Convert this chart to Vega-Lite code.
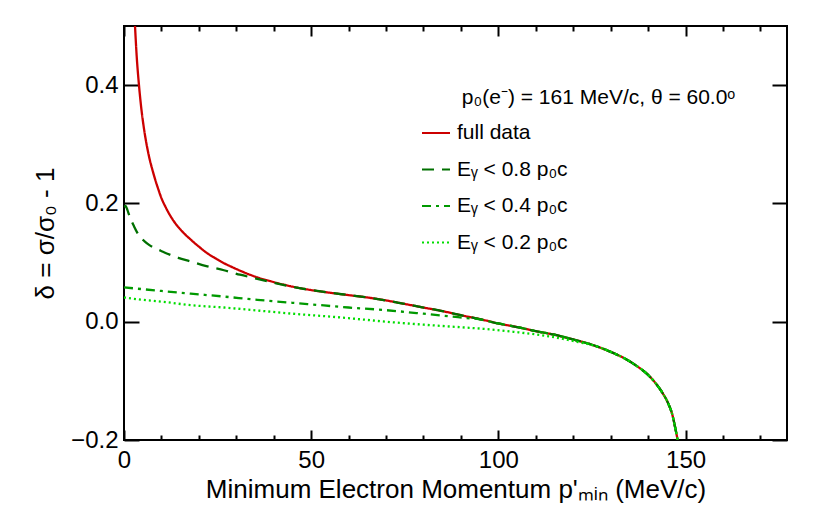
{
  "$schema": "https://vega.github.io/schema/vega-lite/v6.json",
  "width": 663,
  "height": 414,
  "autosize": "none",
  "padding": {"left": 124, "top": 26, "right": 43, "bottom": 79},
  "background": "white",
  "config": {
    "font": "Liberation Sans",
    "view": {"stroke": "black", "strokeWidth": 2},
    "axis": {"domain": false, "grid": false, "tickColor": "black", "tickWidth": 2, "labelColor": "black", "labelFont": "Liberation Sans", "labelFontSize": 24, "labelFlush": false, "labelOverlap": false, "titleFont": "Liberation Sans", "titleFontSize": 26, "titleFontWeight": "normal", "titleColor": "black", "zindex": 1},
    "legend": {"padding": 0, "titleFont": "Liberation Sans", "titleFontSize": 21, "titleFontWeight": "normal", "titleColor": "black", "titleLimit": 500, "titlePadding": 10, "labelFont": "Liberation Sans", "labelFontSize": 21, "labelColor": "black", "labelLimit": 300, "symbolType": "stroke", "symbolSize": 784, "symbolStrokeWidth": 2, "labelOffset": 6, "rowPadding": 11.5}
  },
  "data": {
    "values": [
      {"series": "full data", "p": 2.94, "delta": 0.5},
      {"series": "full data", "p": 3.4, "delta": 0.448},
      {"series": "full data", "p": 4.0, "delta": 0.4},
      {"series": "full data", "p": 4.6, "delta": 0.362},
      {"series": "full data", "p": 5.3, "delta": 0.328},
      {"series": "full data", "p": 6.0, "delta": 0.301},
      {"series": "full data", "p": 6.7, "delta": 0.279},
      {"series": "full data", "p": 7.8, "delta": 0.252},
      {"series": "full data", "p": 8.9, "delta": 0.229},
      {"series": "full data", "p": 10.0, "delta": 0.209},
      {"series": "full data", "p": 11.1, "delta": 0.194},
      {"series": "full data", "p": 12.2, "delta": 0.181},
      {"series": "full data", "p": 13.3, "delta": 0.17},
      {"series": "full data", "p": 15.5, "delta": 0.153},
      {"series": "full data", "p": 17.8, "delta": 0.139},
      {"series": "full data", "p": 20.0, "delta": 0.127},
      {"series": "full data", "p": 22.2, "delta": 0.116},
      {"series": "full data", "p": 24.5, "delta": 0.107},
      {"series": "full data", "p": 26.7, "delta": 0.099},
      {"series": "full data", "p": 29.0, "delta": 0.092},
      {"series": "full data", "p": 31.5, "delta": 0.085},
      {"series": "full data", "p": 35.6, "delta": 0.075},
      {"series": "full data", "p": 40.0, "delta": 0.067},
      {"series": "full data", "p": 44.5, "delta": 0.06},
      {"series": "full data", "p": 50, "delta": 0.0535},
      {"series": "full data", "p": 55, "delta": 0.049},
      {"series": "full data", "p": 60, "delta": 0.045},
      {"series": "full data", "p": 65, "delta": 0.041},
      {"series": "full data", "p": 70, "delta": 0.036},
      {"series": "full data", "p": 75, "delta": 0.03},
      {"series": "full data", "p": 80, "delta": 0.024},
      {"series": "full data", "p": 85, "delta": 0.018},
      {"series": "full data", "p": 90, "delta": 0.011},
      {"series": "full data", "p": 95, "delta": 0.0045},
      {"series": "full data", "p": 100, "delta": -0.003},
      {"series": "full data", "p": 105, "delta": -0.009},
      {"series": "full data", "p": 110, "delta": -0.016},
      {"series": "full data", "p": 115, "delta": -0.022},
      {"series": "full data", "p": 120, "delta": -0.03},
      {"series": "full data", "p": 125, "delta": -0.039},
      {"series": "full data", "p": 130, "delta": -0.051},
      {"series": "full data", "p": 134, "delta": -0.063},
      {"series": "full data", "p": 137, "delta": -0.075},
      {"series": "full data", "p": 140, "delta": -0.09},
      {"series": "full data", "p": 142, "delta": -0.104},
      {"series": "full data", "p": 144, "delta": -0.122},
      {"series": "full data", "p": 145.5, "delta": -0.14},
      {"series": "full data", "p": 146.5, "delta": -0.158},
      {"series": "full data", "p": 147.2, "delta": -0.178},
      {"series": "full data", "p": 147.9, "delta": -0.2},

      {"series": "Eᵧ < 0.8 p₀c", "p": 0, "delta": 0.194},
      {"series": "Eᵧ < 0.8 p₀c", "p": 0.4, "delta": 0.196},
      {"series": "Eᵧ < 0.8 p₀c", "p": 0.9, "delta": 0.189},
      {"series": "Eᵧ < 0.8 p₀c", "p": 1.5, "delta": 0.178},
      {"series": "Eᵧ < 0.8 p₀c", "p": 2.1, "delta": 0.169},
      {"series": "Eᵧ < 0.8 p₀c", "p": 2.7, "delta": 0.161},
      {"series": "Eᵧ < 0.8 p₀c", "p": 3.5, "delta": 0.151},
      {"series": "Eᵧ < 0.8 p₀c", "p": 4.45, "delta": 0.142},
      {"series": "Eᵧ < 0.8 p₀c", "p": 5.5, "delta": 0.136},
      {"series": "Eᵧ < 0.8 p₀c", "p": 6.7, "delta": 0.13},
      {"series": "Eᵧ < 0.8 p₀c", "p": 8.0, "delta": 0.125},
      {"series": "Eᵧ < 0.8 p₀c", "p": 9.8, "delta": 0.12},
      {"series": "Eᵧ < 0.8 p₀c", "p": 11.6, "delta": 0.115},
      {"series": "Eᵧ < 0.8 p₀c", "p": 14.5, "delta": 0.108},
      {"series": "Eᵧ < 0.8 p₀c", "p": 17.8, "delta": 0.102},
      {"series": "Eᵧ < 0.8 p₀c", "p": 22.0, "delta": 0.094},
      {"series": "Eᵧ < 0.8 p₀c", "p": 26.7, "delta": 0.087},
      {"series": "Eᵧ < 0.8 p₀c", "p": 31.0, "delta": 0.0795},
      {"series": "Eᵧ < 0.8 p₀c", "p": 35.6, "delta": 0.0725},
      {"series": "Eᵧ < 0.8 p₀c", "p": 40.0, "delta": 0.066},
      {"series": "Eᵧ < 0.8 p₀c", "p": 44.5, "delta": 0.0595},
      {"series": "Eᵧ < 0.8 p₀c", "p": 50, "delta": 0.0535},
      {"series": "Eᵧ < 0.8 p₀c", "p": 55, "delta": 0.049},
      {"series": "Eᵧ < 0.8 p₀c", "p": 60, "delta": 0.045},
      {"series": "Eᵧ < 0.8 p₀c", "p": 65, "delta": 0.041},
      {"series": "Eᵧ < 0.8 p₀c", "p": 70, "delta": 0.036},
      {"series": "Eᵧ < 0.8 p₀c", "p": 75, "delta": 0.03},
      {"series": "Eᵧ < 0.8 p₀c", "p": 80, "delta": 0.024},
      {"series": "Eᵧ < 0.8 p₀c", "p": 85, "delta": 0.018},
      {"series": "Eᵧ < 0.8 p₀c", "p": 90, "delta": 0.011},
      {"series": "Eᵧ < 0.8 p₀c", "p": 95, "delta": 0.0045},
      {"series": "Eᵧ < 0.8 p₀c", "p": 100, "delta": -0.003},
      {"series": "Eᵧ < 0.8 p₀c", "p": 105, "delta": -0.009},
      {"series": "Eᵧ < 0.8 p₀c", "p": 110, "delta": -0.016},
      {"series": "Eᵧ < 0.8 p₀c", "p": 115, "delta": -0.022},
      {"series": "Eᵧ < 0.8 p₀c", "p": 120, "delta": -0.03},
      {"series": "Eᵧ < 0.8 p₀c", "p": 125, "delta": -0.039},
      {"series": "Eᵧ < 0.8 p₀c", "p": 130, "delta": -0.051},
      {"series": "Eᵧ < 0.8 p₀c", "p": 134, "delta": -0.063},
      {"series": "Eᵧ < 0.8 p₀c", "p": 137, "delta": -0.075},
      {"series": "Eᵧ < 0.8 p₀c", "p": 140, "delta": -0.09},
      {"series": "Eᵧ < 0.8 p₀c", "p": 142, "delta": -0.104},
      {"series": "Eᵧ < 0.8 p₀c", "p": 144, "delta": -0.122},
      {"series": "Eᵧ < 0.8 p₀c", "p": 145.5, "delta": -0.14},
      {"series": "Eᵧ < 0.8 p₀c", "p": 146.5, "delta": -0.158},
      {"series": "Eᵧ < 0.8 p₀c", "p": 147.2, "delta": -0.178},
      {"series": "Eᵧ < 0.8 p₀c", "p": 147.9, "delta": -0.2},

      {"series": "Eᵧ < 0.4 p₀c", "p": 0, "delta": 0.058},
      {"series": "Eᵧ < 0.4 p₀c", "p": 5, "delta": 0.055},
      {"series": "Eᵧ < 0.4 p₀c", "p": 10, "delta": 0.052},
      {"series": "Eᵧ < 0.4 p₀c", "p": 17.8, "delta": 0.0475},
      {"series": "Eᵧ < 0.4 p₀c", "p": 26.7, "delta": 0.0425},
      {"series": "Eᵧ < 0.4 p₀c", "p": 35.6, "delta": 0.037},
      {"series": "Eᵧ < 0.4 p₀c", "p": 45, "delta": 0.032},
      {"series": "Eᵧ < 0.4 p₀c", "p": 53.4, "delta": 0.0275},
      {"series": "Eᵧ < 0.4 p₀c", "p": 60, "delta": 0.024},
      {"series": "Eᵧ < 0.4 p₀c", "p": 69.1, "delta": 0.02},
      {"series": "Eᵧ < 0.4 p₀c", "p": 80, "delta": 0.0135},
      {"series": "Eᵧ < 0.4 p₀c", "p": 87, "delta": 0.009},
      {"series": "Eᵧ < 0.4 p₀c", "p": 91, "delta": 0.0065},
      {"series": "Eᵧ < 0.4 p₀c", "p": 95, "delta": 0.004},
      {"series": "Eᵧ < 0.4 p₀c", "p": 100, "delta": -0.003},
      {"series": "Eᵧ < 0.4 p₀c", "p": 105, "delta": -0.009},
      {"series": "Eᵧ < 0.4 p₀c", "p": 110, "delta": -0.016},
      {"series": "Eᵧ < 0.4 p₀c", "p": 115, "delta": -0.022},
      {"series": "Eᵧ < 0.4 p₀c", "p": 120, "delta": -0.03},
      {"series": "Eᵧ < 0.4 p₀c", "p": 125, "delta": -0.039},
      {"series": "Eᵧ < 0.4 p₀c", "p": 130, "delta": -0.051},
      {"series": "Eᵧ < 0.4 p₀c", "p": 134, "delta": -0.063},
      {"series": "Eᵧ < 0.4 p₀c", "p": 137, "delta": -0.075},
      {"series": "Eᵧ < 0.4 p₀c", "p": 140, "delta": -0.09},
      {"series": "Eᵧ < 0.4 p₀c", "p": 142, "delta": -0.104},
      {"series": "Eᵧ < 0.4 p₀c", "p": 144, "delta": -0.122},
      {"series": "Eᵧ < 0.4 p₀c", "p": 145.5, "delta": -0.14},
      {"series": "Eᵧ < 0.4 p₀c", "p": 146.5, "delta": -0.158},
      {"series": "Eᵧ < 0.4 p₀c", "p": 147.2, "delta": -0.178},
      {"series": "Eᵧ < 0.4 p₀c", "p": 147.9, "delta": -0.2},

      {"series": "Eᵧ < 0.2 p₀c", "p": 0, "delta": 0.041},
      {"series": "Eᵧ < 0.2 p₀c", "p": 5, "delta": 0.037},
      {"series": "Eᵧ < 0.2 p₀c", "p": 10, "delta": 0.034},
      {"series": "Eᵧ < 0.2 p₀c", "p": 17.8, "delta": 0.028},
      {"series": "Eᵧ < 0.2 p₀c", "p": 26.7, "delta": 0.024},
      {"series": "Eᵧ < 0.2 p₀c", "p": 35.6, "delta": 0.019},
      {"series": "Eᵧ < 0.2 p₀c", "p": 47, "delta": 0.0125},
      {"series": "Eᵧ < 0.2 p₀c", "p": 53.4, "delta": 0.0095},
      {"series": "Eᵧ < 0.2 p₀c", "p": 60, "delta": 0.006},
      {"series": "Eᵧ < 0.2 p₀c", "p": 69.1, "delta": 0.0005},
      {"series": "Eᵧ < 0.2 p₀c", "p": 80, "delta": -0.005},
      {"series": "Eᵧ < 0.2 p₀c", "p": 91.5, "delta": -0.01},
      {"series": "Eᵧ < 0.2 p₀c", "p": 96, "delta": -0.012},
      {"series": "Eᵧ < 0.2 p₀c", "p": 104, "delta": -0.017},
      {"series": "Eᵧ < 0.2 p₀c", "p": 112.8, "delta": -0.024},
      {"series": "Eᵧ < 0.2 p₀c", "p": 121.7, "delta": -0.035},
      {"series": "Eᵧ < 0.2 p₀c", "p": 126, "delta": -0.041},
      {"series": "Eᵧ < 0.2 p₀c", "p": 130, "delta": -0.051},
      {"series": "Eᵧ < 0.2 p₀c", "p": 134, "delta": -0.063},
      {"series": "Eᵧ < 0.2 p₀c", "p": 137, "delta": -0.075},
      {"series": "Eᵧ < 0.2 p₀c", "p": 140, "delta": -0.09},
      {"series": "Eᵧ < 0.2 p₀c", "p": 142, "delta": -0.104},
      {"series": "Eᵧ < 0.2 p₀c", "p": 144, "delta": -0.122},
      {"series": "Eᵧ < 0.2 p₀c", "p": 145.5, "delta": -0.14},
      {"series": "Eᵧ < 0.2 p₀c", "p": 146.5, "delta": -0.158},
      {"series": "Eᵧ < 0.2 p₀c", "p": 147.2, "delta": -0.178},
      {"series": "Eᵧ < 0.2 p₀c", "p": 147.9, "delta": -0.2}
    ]
  },
  "resolve": {"axis": {"x": "independent", "y": "independent"}},
  "layer": [
    {
      "mark": {"type": "line", "strokeWidth": 2.3, "clip": true, "interpolate": "monotone"},
      "encoding": {
        "x": {"field": "p", "type": "quantitative", "scale": {"domain": [0, 177.1], "nice": false, "zero": false},
          "axis": {"orient": "bottom", "values": [0, 50, 100, 150], "tickSize": -10, "labelPadding": 18, "title": "Minimum Electron Momentum p'ₘᵢₙ (MeV/c)", "titlePadding": 4}},
        "y": {"field": "delta", "type": "quantitative", "scale": {"domain": [-0.2, 0.5], "nice": false, "zero": false},
          "axis": {"orient": "left", "values": [-0.2, 0, 0.2, 0.4], "format": ".1f", "tickSize": -15, "labelPadding": 21, "title": "δ = σ/σ₀ - 1", "titlePadding": 12}},
        "color": {"field": "series", "type": "nominal",
          "scale": {"domain": ["full data", "Eᵧ < 0.8 p₀c", "Eᵧ < 0.4 p₀c", "Eᵧ < 0.2 p₀c"], "range": ["#cc0000", "#007000", "#009900", "#00dd00"]},
          "legend": {"orient": "none", "legendX": 297, "legendY": 61, "title": "\u200b\u00a0\u00a0\u00a0\u00a0\u00a0\u00a0\u00a0p₀(e⁻) = 161 MeV/c, θ = 60.0ᵒ"}},
        "strokeDash": {"field": "series", "type": "nominal",
          "scale": {"domain": ["full data", "Eᵧ < 0.8 p₀c", "Eᵧ < 0.4 p₀c", "Eᵧ < 0.2 p₀c"], "range": [[1, 0], [12, 8], [9, 5, 3, 5], [2, 3]]},
          "legend": {"orient": "none", "legendX": 297, "legendY": 61, "title": "\u200b\u00a0\u00a0\u00a0\u00a0\u00a0\u00a0\u00a0p₀(e⁻) = 161 MeV/c, θ = 60.0ᵒ"}}
      }
    },
    {
      "mark": {"type": "point", "opacity": 0},
      "encoding": {
        "x": {"field": "p", "type": "quantitative", "scale": {"domain": [0, 177.1], "nice": false, "zero": false},
          "axis": {"orient": "bottom", "values": [10, 20, 30, 40, 60, 70, 80, 90, 110, 120, 130, 140, 160, 170], "tickSize": -5, "labels": false, "title": null}},
        "y": {"field": "delta", "type": "quantitative", "scale": {"domain": [-0.2, 0.5], "nice": false, "zero": false},
          "axis": {"orient": "right", "values": [-0.2, 0, 0.2, 0.4], "tickSize": -15, "labels": false, "title": null}}
      }
    },
    {
      "mark": {"type": "point", "opacity": 0},
      "encoding": {
        "x": {"field": "p", "type": "quantitative", "scale": {"domain": [0, 177.1], "nice": false, "zero": false},
          "axis": {"orient": "top", "values": [0, 50, 100, 150], "tickSize": -10, "labels": false, "title": null}},
        "y": {"field": "delta", "type": "quantitative", "scale": {"domain": [-0.2, 0.5], "nice": false, "zero": false}, "axis": null}
      }
    },
    {
      "mark": {"type": "point", "opacity": 0},
      "encoding": {
        "x": {"field": "p", "type": "quantitative", "scale": {"domain": [0, 177.1], "nice": false, "zero": false},
          "axis": {"orient": "top", "values": [10, 20, 30, 40, 60, 70, 80, 90, 110, 120, 130, 140, 160, 170], "tickSize": -5, "labels": false, "title": null}},
        "y": {"field": "delta", "type": "quantitative", "scale": {"domain": [-0.2, 0.5], "nice": false, "zero": false}, "axis": null}
      }
    }
  ]
}
